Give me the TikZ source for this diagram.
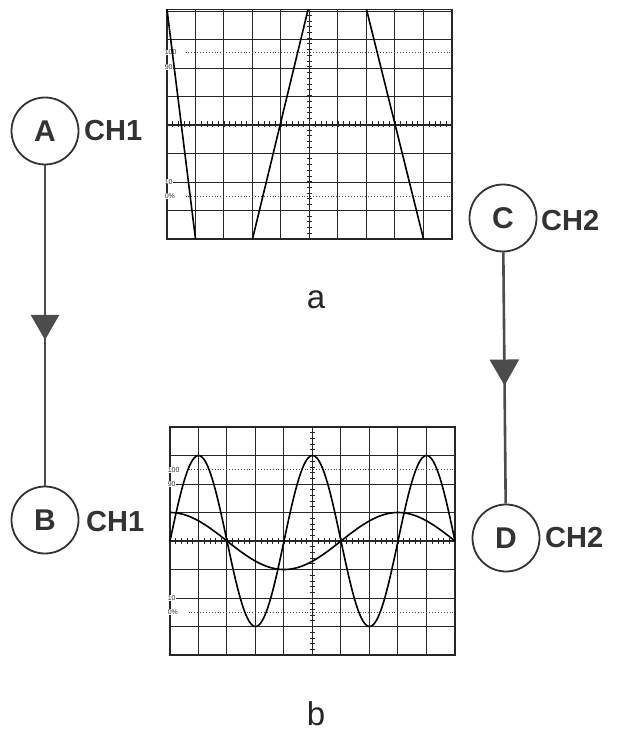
\documentclass[tikz,border=0pt]{standalone}
\usepackage{fontspec}
\setmainfont{Liberation Sans}
\usetikzlibrary{arrows.meta,decorations.markings}
\tikzset{
  grd/.style={line width=0.85pt, black!85},
  bord/.style={line width=1.2pt, black!85},
  axisl/.style={line width=1.3pt, black!85},
  tick/.style={line width=0.7pt, black!85},
  dots/.style={line width=0.9pt, dotted, black!70},
  trace/.style={line width=1.6pt, black},
  glab/.style={font=\fontsize{7}{7}\selectfont, inner sep=0.4pt, anchor=west, fill=white, text=black!80},
  probe/.style={circle, draw=black!80, line width=1.8pt, minimum size=67pt, inner sep=0pt,
                font=\bfseries\fontsize{30}{30}\selectfont, text=black!80},
  chlab/.style={anchor=west, inner sep=0pt, font=\bfseries\fontsize{29}{29}\selectfont, text=black!80},
  conn/.style={line width=2.6pt, black!70},
  sublab/.style={font=\fontsize{33}{33}\selectfont, text=black!85}
}
\newcommand{\scopescreen}{%
  \draw[grd] (0,0) grid (10,8);
  \draw[bord] (0,0) rectangle (10,8);
  \draw[axisl] (0,4) -- (10,4);
  \draw[axisl] (5,0) -- (5,8);
  \foreach \t in {0,0.2,...,10.01} {\draw[tick] (\t,3.9) -- (\t,4.1);}
  \foreach \t in {0,0.2,...,8.01} {\draw[tick] (4.9,\t) -- (5.1,\t);}
  \draw[dots] (0.65,6.5) -- (10,6.5);
  \draw[dots] (0.65,1.5) -- (10,1.5);
  \node[glab] (l100) at (-0.1,6.5) {100};
  \node[glab] (l90) at (-0.1,6) {90};
  \node[glab] (l10) at (-0.1,2) {10};
  \node[glab] (l0) at (-0.1,1.5) {0\%};
}
\begin{document}
\begin{tikzpicture}[x=1pt,y=-1pt]
\useasboundingbox (0,0) rectangle (616,733);
\fill[white] (0,0) rectangle (616,733);

% top oscilloscope (a)
\begin{scope}[shift={(167,239)}, x=28.5pt, y=28.7pt]
  \scopescreen
  \draw[trace] (0,8) -- (1,0);
  \draw[trace] (3,0) -- (4.95,8);
  \draw[trace] (7,8) -- (9,0);
\end{scope}

% bottom oscilloscope (b)
\begin{scope}[shift={(170,655)}, x=28.5pt, y=28.5pt]
  \scopescreen
  \draw[trace] plot[domain=0:10, samples=201, smooth] (\x,{4+3*cos(90*(\x-1))});
  \draw[trace] plot[domain=0:10, samples=201, smooth] (\x,{4+cos(45*\x)});
\end{scope}

% probe points
\node[probe] (A) at (45,131) {A};
\node[chlab] (ch1a) at (84,131) {CH1};
\node[probe] (B) at (45,520) {B};
\node[chlab] (ch1b) at (86,522) {CH1};
\node[probe] (C) at (503,218) {C};
\node[chlab] (ch2c) at (541,221) {CH2};
\node[probe] (D) at (506,538) {D};
\node[chlab] (ch2d) at (545,538) {CH2};

\draw[conn, postaction={decorate}, decoration={markings,
  mark=at position 0.545 with {\arrow{Triangle[length=25pt,width=28pt]}}}] (A) -- (B);
\draw[conn, postaction={decorate}, decoration={markings,
  mark=at position 0.53 with {\arrow{Triangle[length=26pt,width=29pt]}}}] (C) -- (D);

\node[sublab] (la) at (316,300) {a};
\node[sublab] (lb) at (316,714) {b};
\end{tikzpicture}
\end{document}
